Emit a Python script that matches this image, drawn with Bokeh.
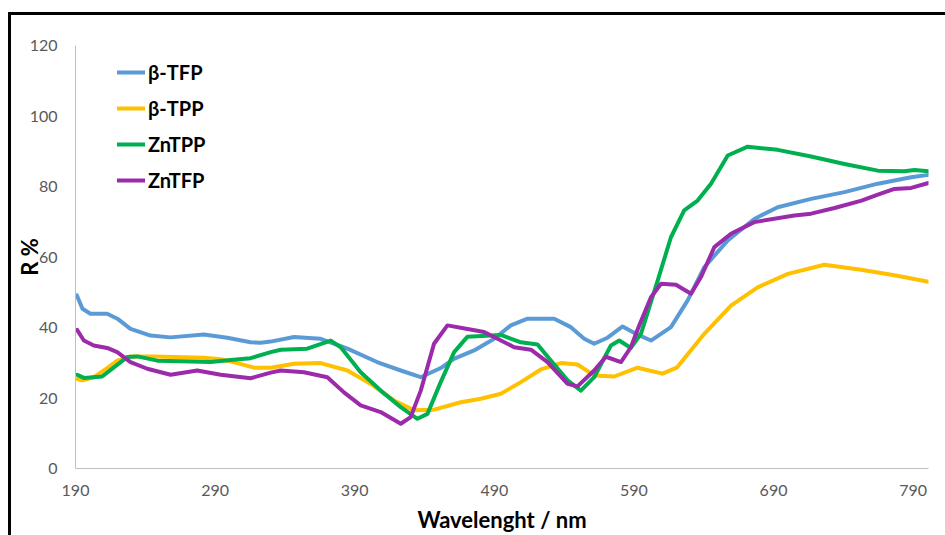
from bokeh.plotting import figure
from bokeh.models import Range1d, FixedTicker, Legend, LegendItem
from bokeh.embed import file_html
from bokeh.resources import INLINE

# ---- data ----
tfp_x = [191, 195, 200.7, 212.7, 220, 229.4, 243.8, 258, 282, 298.7, 315.4, 322.6, 329.8, 346.5, 365.6,
         384.8, 406, 423, 437.3, 451.6, 461, 475.5, 489.9, 501.8, 513.8, 532.9, 544.8, 554.4, 561.5,
         571.1, 581.9, 591.4, 602.2, 616.5, 628.5, 640.4, 657.2, 676.2, 693, 716.9, 740.8, 764.7, 788.6, 801]
tfp_y = [49.1, 45.3, 43.9, 43.9, 42.5, 39.6, 37.7, 37.2, 38.0, 37.1, 35.8, 35.7, 36.0, 37.3, 36.8,
         34.0, 30.2, 27.8, 25.9, 28.5, 31.1, 33.5, 36.8, 40.6, 42.5, 42.5, 40.1, 36.8, 35.4,
         37.1, 40.3, 38.2, 36.3, 40.1, 47.7, 57.1, 64.7, 70.8, 74.1, 76.5, 78.4, 80.8, 82.6, 83.3]

tpp_x = [191.2, 194.8, 203.1, 210.3, 219.9, 229.4, 246.1, 282, 294, 305.9, 317.8, 329.8, 346.5, 365.6,
         384.8, 401.5, 418.2, 432.5, 446.9, 466, 480.3, 494.7, 509, 523.3, 537.7, 549.6, 561.5,
         575.9, 592.6, 610.5, 621, 640.4, 659.5, 678.6, 700.2, 726.4, 752.7, 776.6, 801]
tpp_y = [25.4, 25.0, 25.9, 27.8, 30.6, 31.8, 31.8, 31.4, 31.0, 29.9, 28.6, 28.6, 29.7, 29.9,
         27.8, 24.0, 19.3, 16.5, 16.7, 18.8, 19.8, 21.2, 24.5, 28.1, 29.9, 29.5, 26.4,
         26.1, 28.6, 26.9, 28.7, 38.2, 46.2, 51.4, 55.2, 57.8, 56.4, 54.8, 53.0]

zntpp_x = [191.2, 196, 209.1, 217.5, 227, 234.2, 248.6, 265.3, 286.8, 301.1, 315.4, 329.8, 337, 356,
           372.8, 380, 394.3, 408.6, 423, 434.9, 442.1, 451.6, 461.2, 470.8, 494.7, 509, 521, 530.5,
           542.5, 552, 561.5, 573.5, 579.5, 587.8, 595, 607, 616.5, 626, 635.6, 645.2, 657.2, 671.5,
           693, 716.9, 740.8, 764.7, 783.8, 791, 801]
zntpp_y = [26.6, 25.7, 26.1, 28.7, 31.6, 31.8, 30.6, 30.4, 30.2, 30.8, 31.3, 33.0, 33.7, 34.0,
           36.3, 34.4, 27.3, 22.1, 17.4, 14.1, 15.5, 24.5, 33.0, 37.4, 37.9, 35.8, 35.2, 30.6,
           25.0, 22.1, 25.9, 34.9, 36.3, 34.2, 38.2, 53.3, 65.6, 73.2, 76.0, 80.8, 88.8, 91.3,
           90.4, 88.5, 86.4, 84.5, 84.3, 84.7, 84.3]

zntfp_x = [191.2, 196, 203.1, 212.7, 219.9, 229.4, 241.4, 258.1, 277.2, 294, 315.4, 329.8, 337, 353.7,
           370.4, 382.3, 394.3, 408.6, 423, 430.1, 437.3, 446.8, 456.4, 470.8, 482.7, 492.3, 504.2,
           516.2, 528.1, 542.5, 549.6, 561.5, 569.9, 580.7, 587.8, 593.2, 602.2, 609.4, 620.1, 630.9,
           638, 647.6, 659.5, 676.2, 704.9, 716.9, 733.7, 753, 764.7, 776.6, 788.6, 801]
zntfp_y = [39.3, 36.3, 34.9, 34.2, 33.0, 30.2, 28.3, 26.6, 27.8, 26.6, 25.6, 27.2, 27.8, 27.3,
           25.9, 21.6, 17.9, 16.0, 12.7, 14.6, 22.1, 35.4, 40.6, 39.6, 38.7, 36.8, 34.4,
           33.7, 30.2, 24.0, 23.3, 27.8, 31.7, 30.2, 34.4, 40.0, 48.6, 52.4, 52.1, 49.6,
           54.3, 62.8, 66.6, 69.9, 71.8, 72.3, 73.9, 76.0, 77.7, 79.3, 79.6, 81.0]

series_names = ["\u03b2-TFP", "\u03b2-TPP", "ZnTPP", "ZnTFP"]
series_colors = ["#5B9BD5", "#FFC000", "#00B050", "#9B2BAA"]
x_ticks = [190, 290, 390, 490, 590, 690, 790]
y_ticks = [0, 20, 40, 60, 80, 100, 120]

FONT = "Lato"

p = figure(output_backend="svg", toolbar_location=None,
           x_range=Range1d(190, 801), y_range=Range1d(0, 120),
           frame_width=853, frame_height=423,
           min_border_left=64, min_border_top=30, min_border_right=17, min_border_bottom=64,
           outline_line_color=None, background_fill_color="white", border_fill_color="white",
           styles={"margin-left": "8px", "margin-top": "12px",
                   "border-left": "3px solid black", "border-top": "3px solid black"})
p.grid.visible = False

renderers = []
for xs, ys, c in [(tfp_x, tfp_y, series_colors[0]), (tpp_x, tpp_y, series_colors[1]),
                  (zntpp_x, zntpp_y, series_colors[2]), (zntfp_x, zntfp_y, series_colors[3])]:
    r = p.line(xs, ys, line_color=c, line_width=4, line_join="round", line_cap="round")
    renderers.append(r)

for ax in (p.xaxis[0], p.yaxis[0]):
    ax.axis_line_color = "#BFBFBF"
    ax.axis_line_width = 1
    ax.major_tick_line_color = None
    ax.minor_tick_line_color = None
    ax.major_tick_out = 0
    ax.major_tick_in = 0
    ax.minor_tick_out = 0
    ax.minor_tick_in = 0
    ax.major_label_text_font = FONT
    ax.major_label_text_font_size = "16px"
    ax.major_label_text_color = "#595959"
    ax.axis_label_text_font = FONT
    ax.axis_label_text_font_style = "bold"
    ax.axis_label_text_font_size = "22px"
    ax.axis_label_text_color = "black"

p.xaxis[0].ticker = FixedTicker(ticks=x_ticks)
p.yaxis[0].ticker = FixedTicker(ticks=y_ticks)
p.xaxis[0].axis_label = "Wavelenght / nm"
p.yaxis[0].axis_label = "R %"
p.xaxis[0].major_label_standoff = 16
p.xaxis[0].axis_label_standoff = 7
p.yaxis[0].major_label_standoff = 18
p.yaxis[0].axis_label_standoff = -16

legend = Legend(items=[LegendItem(label=n, renderers=[r]) for n, r in zip(series_names, renderers)],
                location=(42, 276), padding=0, margin=0, spacing=12,
                glyph_width=28, glyph_height=20, label_height=20, label_standoff=3,
                label_text_font=FONT, label_text_font_style="bold", label_text_font_size="20px",
                label_text_color="black", border_line_color=None, background_fill_alpha=0)
p.add_layout(legend)

open("out.html", "w").write(file_html(p, INLINE))
